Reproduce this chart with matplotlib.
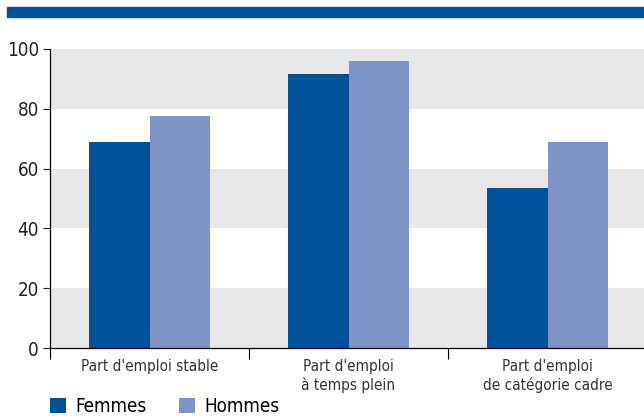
import numpy as np
import matplotlib
matplotlib.use("Agg")
from matplotlib import pyplot as plt
from matplotlib.patches import Rectangle

categories = ["Part d'emploi stable", "Part d'emploi\nà temps plein", "Part d'emploi\nde catégorie cadre"]
femmes = [69, 91.5, 53.5]
hommes = [77.5, 96, 69]
yticks = [0, 20, 40, 60, 80, 100]

plt.rcParams['font.family'] = ['DejaVu Sans']
plt.rcParams['font.stretch'] = 'condensed'

fig = plt.figure(figsize=(6.44, 4.16), dpi=100)
W, H = 644, 416
ax = fig.add_axes([50 / W, 1 - 348 / H, 597 / W, (348 - 49) / H])

# bandeau bleu en haut
fig.patches.append(Rectangle((7 / W, 1 - 17 / H), 1, 10 / H, transform=fig.transFigure,
                             color="#00539f", zorder=0))

# bandes grises
for lo in (0, 40, 80):
    ax.axhspan(lo, lo + 20, color="#e6e7e9", zorder=0, lw=0)

x = np.arange(len(categories))
w = 0.302
ax.bar(x - w / 2, femmes, w, color="#00529b", zorder=2, label="Femmes")
ax.bar(x + w / 2, hommes, w, color="#7f93c6", zorder=2, label="Hommes")

ax.set_xlim(-0.5, 2.5)
ax.set_ylim(0, 100)
ax.set_yticks(yticks)
ax.tick_params(axis="y", length=5, width=0.8, labelsize=13.5, pad=3, colors="#222222")
ax.set_xticks([-0.5, 0.5, 1.5])
ax.set_xticklabels([])
ax.tick_params(axis="x", length=8, width=0.8, direction="out")
for i, c in enumerate(categories):
    ax.text(i, -3.6, c, ha="center", va="top", fontsize=11, color="#333333",
            linespacing=1.25)

for s in ("top", "right"):
    ax.spines[s].set_visible(False)
for s in ("left", "bottom"):
    ax.spines[s].set_linewidth(0.9)

leg = ax.legend(loc="upper left", bbox_to_anchor=(0.0, -0.165), ncol=2,
                frameon=False, fontsize=13.5, handlelength=0.85, handleheight=0.85,
                handletextpad=0.5, columnspacing=1.75, borderaxespad=0, borderpad=0)

fig.savefig("out.png", dpi=100)
